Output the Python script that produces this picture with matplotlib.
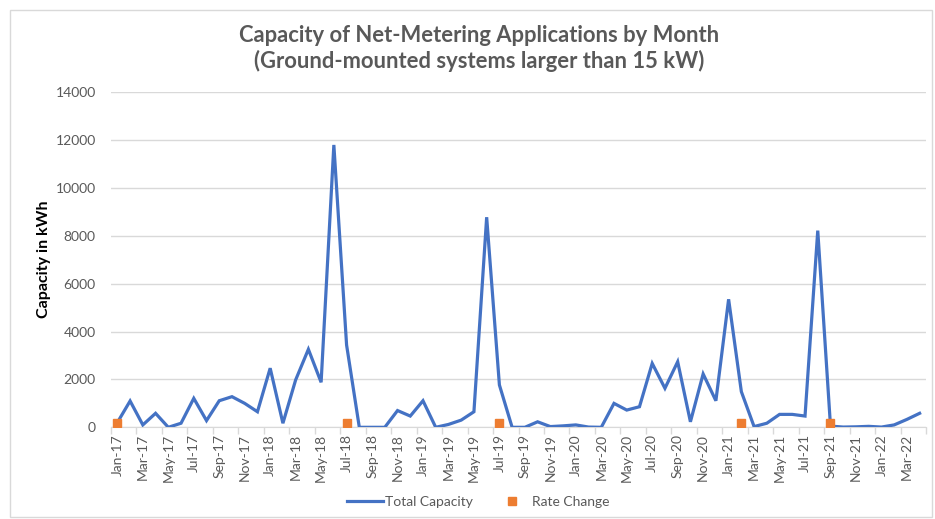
import matplotlib.pyplot as plt
import matplotlib.patches as patches
import numpy as np
import pandas as pd

# monthly categories Jan-17 .. Apr-22
months = list(pd.date_range("2017-01-01", periods=64, freq="MS").strftime("%b-%y"))

total_capacity = [
    200, 1100, 100, 585, 0, 170, 1210, 280, 1110, 1280, 1000, 650,    # 2017
    2470, 170, 1980, 3260, 1880, 11800, 3440, 0, 0, 0, 700, 470,     # 2018
    1110, 0, 120, 300, 650, 8780, 1770, 0, 0, 230, 30, 60,           # 2019
    100, 10, 0, 1000, 720, 860, 2670, 1630, 2740, 230, 2230, 1110,   # 2020
    5350, 1490, 30, 170, 540, 540, 470, 8220, 50, 10, 20, 40,        # 2021
    10, 100, 330, 585,                                               # 2022
]

rate_change_months = ["Jan-17", "Jul-18", "Jul-19", "Feb-21", "Sep-21"]
rate_change_values = [200, 200, 200, 200, 200]

yticks = [0, 2000, 4000, 6000, 8000, 10000, 12000, 14000]

plt.rcParams["font.family"] = ["Lato", "DejaVu Sans"]

fig = plt.figure(figsize=(9.35, 5.19), dpi=100)
ax = fig.add_axes([111 / 935, 1 - 427.3 / 519, 815 / 935, 335 / 519])

x = np.arange(len(months))
ax.plot(x, total_capacity, color="#4472C4", linewidth=2.3, label="Total Capacity",
        solid_joinstyle="miter", zorder=3)
rx = [months.index(m) for m in rate_change_months]
ax.plot(rx, rate_change_values, linestyle="none", marker="s", markersize=6.3,
        color="#ED7D31", label="Rate Change", zorder=4)

ax.set_xlim(-0.5, len(months) - 0.5)
ax.set_ylim(0, 14000)
ax.set_yticks(yticks)
ax.set_yticklabels([str(v) for v in yticks])
ax.grid(True, axis="y", color="#D9D9D9", linewidth=1)
ax.set_axisbelow(True)

ax.set_xticks(x[::2])
ax.set_xticklabels(months[::2], rotation=90)
ax.set_xticks(np.arange(-0.5, len(months), 2), minor=True)
ax.tick_params(axis="x", which="major", length=0, pad=5, labelsize=10, labelcolor="#595959")
ax.tick_params(axis="x", which="minor", length=5, color="#D9D9D9", width=1)
ax.tick_params(axis="y", length=0, pad=11, labelsize=10, labelcolor="#595959")

for s in ["top", "right", "left"]:
    ax.spines[s].set_visible(False)
ax.spines["bottom"].set_color("#D9D9D9")

fig.text(44 / 935, 1 - 259 / 519, "Capacity in kWh", rotation=90, ha="center", va="center",
         fontsize=11.5, fontweight="bold", color="black")

fig.text(0.512, 1 - 48.5 / 519, "Capacity of Net-Metering Applications by Month\n(Ground-mounted systems larger than 15 kW)",
         ha="center", va="center", fontsize=15.8, fontweight="bold", color="#595959", linespacing=1.23)

fig.legend(loc="center", bbox_to_anchor=(478 / 935, 1 - 502 / 519), ncol=2, frameon=False,
           fontsize=10, handlelength=2.6, handletextpad=0.15, columnspacing=1.5,
           labelcolor="#595959")

fig.patches.append(patches.Rectangle((10 / 935, 2 / 519), 922 / 935, 507 / 519,
                                     transform=fig.transFigure, fill=False,
                                     edgecolor="#D9D9D9", linewidth=1))

fig.savefig("out.png", dpi=100)
